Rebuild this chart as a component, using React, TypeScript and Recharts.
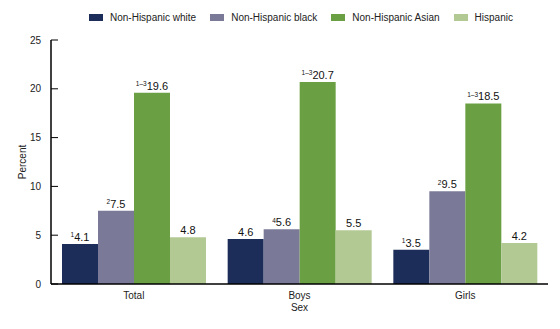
import { BarChart, Bar, XAxis, YAxis, LabelList } from 'recharts';

const categories = ['Total', 'Boys', 'Girls'];
const seriesNames = ['Non-Hispanic white', 'Non-Hispanic black', 'Non-Hispanic Asian', 'Hispanic'];
const seriesColors = ['#1c2d5a', '#7a7a98', '#6aa043', '#b3c993'];
const white = [4.1, 4.6, 3.5];
const black = [7.5, 5.6, 9.5];
const asian = [19.6, 20.7, 18.5];
const hispanic = [4.8, 5.5, 4.2];
const seriesValues = [white, black, asian, hispanic];
// superscript footnote marks per series, per category
const whiteNotes = ['1', '', '1'];
const blackNotes = ['2', '4', '2'];
const asianNotes = ['1–3', '1–3', '1–3'];
const hispanicNotes = ['', '', ''];
const seriesNotes = [whiteNotes, blackNotes, asianNotes, hispanicNotes];
const yTicks = [0, 5, 10, 15, 20, 25];

const FONT = '"Liberation Sans", Arial, sans-serif';

const data = categories.map((c, i) => {
  const row: any = { name: c };
  seriesValues.forEach((vals, s) => {
    row['s' + s] = vals[i];
  });
  return row;
});

function makeLabel(notes: string[]) {
  return (props: any) => {
    const { x, y, width, value, index } = props;
    const note = notes[index];
    return (
      <text
        x={x + width / 2}
        y={y - 3}
        textAnchor="middle"
        fontFamily={FONT}
        fontSize={11}
        fill="#111"
      >
        {note ? (
          <tspan fontSize={6.5} dy={-3.5}>
            {note}
          </tspan>
        ) : null}
        <tspan dy={note ? 3.5 : 0}>{value.toFixed(1)}</tspan>
      </text>
    );
  };
}

function YTick(props: any) {
  const { x, y, payload } = props;
  return (
    <g>
      <line x1={x + 10} x2={x + 17} y1={y} y2={y} stroke="#000" strokeWidth={1} />
      <text x={x} y={y} dy={3.5} textAnchor="end" fontFamily={FONT} fontSize={10} fill="#222">
        {payload.value}
      </text>
    </g>
  );
}

function YLabel(props: any) {
  const { viewBox } = props;
  const cx = viewBox.x + 22;
  const cy = viewBox.y + viewBox.height / 2;
  return (
    <text
      x={cx}
      y={cy}
      transform={`rotate(-90, ${cx}, ${cy})`}
      textAnchor="middle"
      dominantBaseline="central"
      fontFamily={FONT}
      fontSize={10}
      fill="#222"
    >
      Percent
    </text>
  );
}

function Legend() {
  return (
    <div
      style={{
        position: 'absolute',
        top: 12,
        left: 89,
        display: 'flex',
        alignItems: 'center',
        fontFamily: FONT,
        fontSize: 10,
        color: '#222',
        whiteSpace: 'nowrap',
      }}
    >
      {seriesNames.map((n, i) => (
        <div key={n} style={{ display: 'flex', alignItems: 'center', marginRight: 14 }}>
          <span style={{ width: 14, height: 7, background: seriesColors[i], marginRight: 7, display: 'inline-block' }} />
          <span>{n}</span>
        </div>
      ))}
    </div>
  );
}

export default function App() {
  return (
    <div style={{ position: 'absolute', left: 0, top: 0, width: 560, height: 329, background: '#fff' }}>
      <Legend />
      <BarChart
        width={560}
        height={329}
        data={data}
        margin={{ top: 40, right: 12, bottom: 0, left: 0 }}
        barCategoryGap={11}
        barGap={0}
      >
        <XAxis
          dataKey="name"
          height={45}
          axisLine={{ stroke: '#000', strokeWidth: 1.5 }}
          tickLine={false}
          tickSize={0}
          tickMargin={8}
          tick={{ fontFamily: FONT, fontSize: 10, fill: '#222' }}
          label={{ value: 'Sex', position: 'insideBottom', offset: 18, fontFamily: FONT, fontSize: 10, fill: '#222' }}
        />
        <YAxis
          width={51}
          domain={[0, 25]}
          ticks={yTicks}
          axisLine={{ stroke: '#000', strokeWidth: 1.5 }}
          tickLine={false}
          tickSize={0}
          tickMargin={10}
          tick={<YTick />}
          label={<YLabel />}
        />
        {seriesNames.map((n, s) => (
          <Bar key={n} dataKey={'s' + s} name={n} fill={seriesColors[s]} isAnimationActive={false}>
            <LabelList dataKey={'s' + s} content={makeLabel(seriesNotes[s])} />
          </Bar>
        ))}
      </BarChart>
    </div>
  );
}
